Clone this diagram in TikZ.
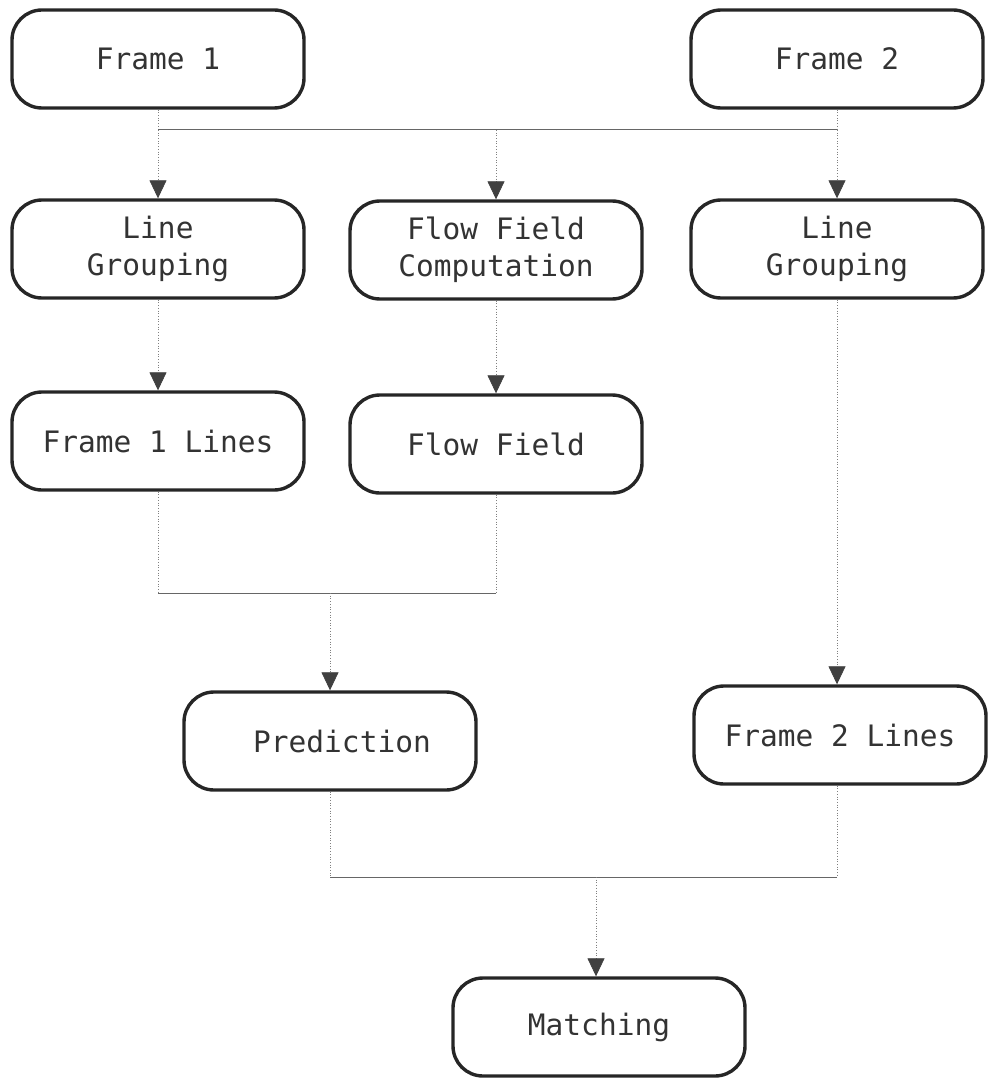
\documentclass[tikz,border=0pt]{standalone}
\usepackage{fontspec}
\setmonofont{DejaVu Sans Mono}
\usetikzlibrary{arrows.meta}
\begin{document}
\begin{tikzpicture}[x=1pt,y=-1pt,
  box/.style={draw=black!85, line width=3.4pt, rounded corners=30pt,
    minimum width=292pt, minimum height=98pt, align=center, inner sep=0pt,
    font=\ttfamily\fontsize{29.5}{37}\selectfont, text=black!80, fill=white},
  link/.style={draw=black!50, line width=0.7pt, dotted},
  hline/.style={draw=black!60, line width=1pt},
  arr/.style={-{Triangle[length=18pt,width=17pt,color=black!75,fill=black!75]}}
]
\useasboundingbox (0,0) rectangle (990,1086);

\node[box] (f1)   at (158,59)  {Frame 1};
\node[box] (f2)   at (837,59)  {Frame 2};
\node[box] (lg1)  at (158,249) {Line\\Grouping};
\node[box] (ffc)  at (496,250) {Flow Field\\Computation};
\node[box] (lg2)  at (837,249) {Line\\Grouping};
\node[box] (f1l)  at (158,441) {Frame 1 Lines};
\node[box] (ff)   at (496,444) {Flow Field};
\node[box] (pred) at (330,741) {\hspace*{24pt}Prediction};
\node[box] (f2l)  at (840,735) {Frame 2 Lines};
\node[box] (mt)   at (599,1027) {Matching};

% junction 1
\coordinate (j1) at (158,130);
\coordinate (j1r) at (837,130);
\draw[link] (f1.south) -- (j1);
\draw[link] (f2.south) -- (j1r);
\draw[hline] (j1) -- (j1r);
\draw[link,arr] (lg1.north |- j1) -- (lg1.north);
\draw[link,arr] (ffc.north |- j1) -- (ffc.north);
\draw[link,arr] (lg2.north |- j1) -- (lg2.north);

% vertical arrows
\draw[link,arr] (lg1.south) -- (f1l.north);
\draw[link,arr] (ffc.south) -- (ff.north);
\draw[link,arr] (lg2.south) -- (lg2.south |- f2l.north);

% junction 2
\coordinate (j2) at (158,593);
\coordinate (j2r) at (496,593);
\coordinate (j2m) at (330,593);
\draw[link] (f1l.south) -- (j2);
\draw[link] (ff.south) -- (j2r);
\draw[hline] (j2) -- (j2r);
\draw[link,arr] (j2m) -- (pred.north);

% junction 3
\coordinate (j3) at (330,877);
\coordinate (j3r) at (837,877);
\coordinate (j3m) at (596,877);
\draw[link] (pred.south) -- (j3);
\draw[link] (lg2.south |- f2l.south) -- (j3r);
\draw[hline] (j3) -- (j3r);
\draw[link,arr] (j3m) -- (j3m |- mt.north);
\end{tikzpicture}
\end{document}
